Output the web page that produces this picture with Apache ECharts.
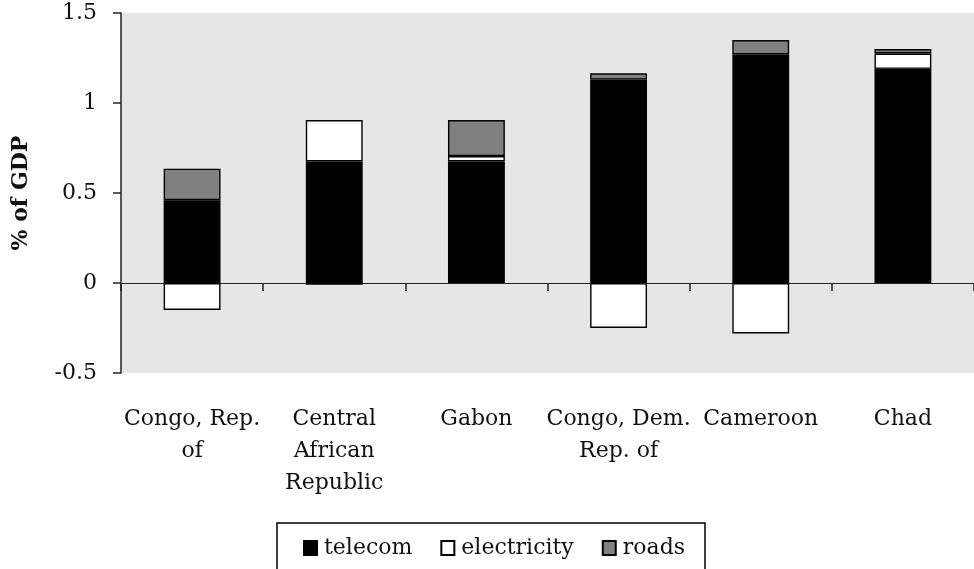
<!DOCTYPE html>
<html>
<head>
<meta charset="utf-8">
<script src="https://cdn.jsdelivr.net/npm/echarts@6/dist/echarts.min.js"></script>
<style>
  html, body { margin: 0; padding: 0; background: #fff; }
  #chart { width: 974px; height: 569px; }
</style>
</head>
<body>
<div id="chart"></div>
<script>
const categories = ['Congo, Rep.\nof', 'Central\nAfrican\nRepublic', 'Gabon', 'Congo, Dem.\nRep. of', 'Cameroon', 'Chad'];
const telecom = [0.46, 0.675, 0.675, 1.13, 1.27, 1.19];
const electricity = [-0.15, 0.23, 0.03, -0.25, -0.28, 0.085];
const roads = [0.175, -0.01, 0.2, 0.035, 0.08, 0.025];
const yTicks = { min: -0.5, max: 1.5, step: 0.5 };

const font = 'DejaVu Serif';
const chart = echarts.init(document.getElementById('chart'));

function barSeries(name, data, color) {
  return {
    name: name,
    type: 'bar',
    stack: 'total',
    xAxisIndex: 0,
    barWidth: '40%',
    data: data,
    itemStyle: { color: color, borderColor: '#000', borderWidth: 1.4 }
  };
}

chart.setOption({
  animation: false,
  textStyle: { fontFamily: font },
  grid: {
    left: 121, top: 13, bottom: 196, right: -11,
    show: true, backgroundColor: '#e6e6e6', borderWidth: 0
  },
  legend: {
    left: 277, top: 523,
    padding: [14, 20, 40, 26],
    borderColor: '#000', borderWidth: 1.5,
    itemWidth: 13, itemHeight: 14, itemGap: 28,
    icon: 'rect',
    textStyle: { fontFamily: font, fontSize: 22, color: '#111', padding: [0, 0, 0, 2] },
    data: ['telecom', 'electricity', 'roads']
  },
  xAxis: [
    {
      type: 'category',
      data: categories,
      position: 'bottom',
      axisLine: { onZero: true, lineStyle: { color: '#222', width: 1.2 } },
      axisTick: { show: true, length: 8, lineStyle: { color: '#222', width: 1.5 } },
      axisLabel: { show: false },
      splitLine: { show: false }
    },
    {
      type: 'category',
      data: categories,
      position: 'bottom',
      axisLine: { show: false, onZero: false },
      axisTick: { show: false },
      axisLabel: {
        margin: 30, interval: 0,
        fontFamily: font, fontSize: 22, lineHeight: 32, color: '#111'
      }
    }
  ],
  yAxis: {
    type: 'value',
    min: yTicks.min, max: yTicks.max, interval: yTicks.step,
    name: '% of GDP',
    nameLocation: 'middle',
    nameGap: 89,
    nameRotate: 90,
    nameTextStyle: { fontFamily: font, fontSize: 22, fontWeight: 'bold', color: '#111' },
    axisLine: { show: true, lineStyle: { color: '#222', width: 1.5 } },
    axisTick: { show: true, length: 8, lineStyle: { color: '#222', width: 1.5 } },
    axisLabel: { margin: 24, fontFamily: font, fontSize: 22, color: '#111' },
    splitLine: { show: false }
  },
  series: [
    barSeries('telecom', telecom, '#000000'),
    barSeries('electricity', electricity, '#ffffff'),
    barSeries('roads', roads, '#808080')
  ]
});
</script>
</body>
</html>
